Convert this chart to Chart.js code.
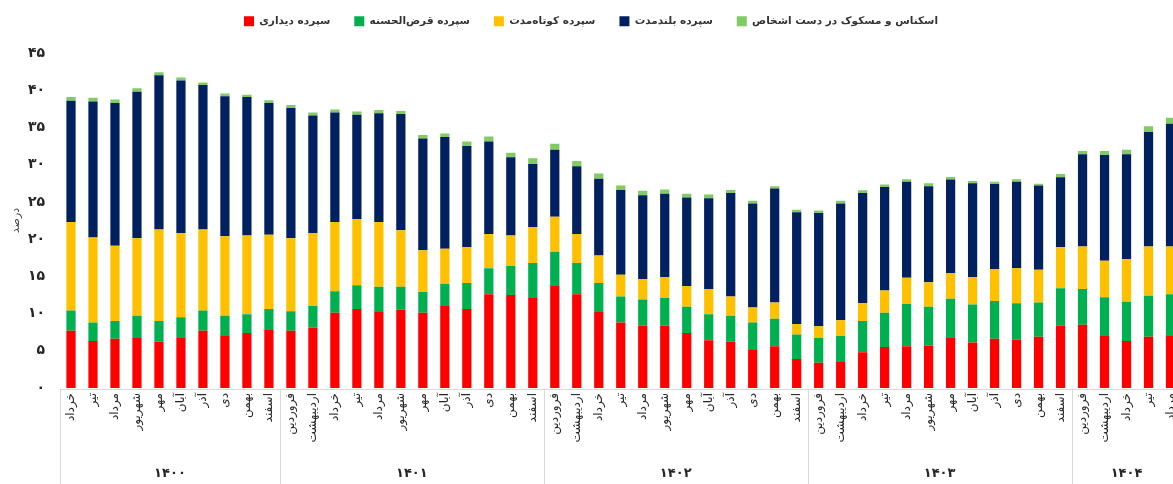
<!DOCTYPE html>
<html>
<head>
<meta charset="utf-8">
<script src="https://cdn.jsdelivr.net/npm/chart.js@4.4.1/dist/chart.umd.min.js"></script>
<style>
  html, body { margin: 0; padding: 0; background: #fff; overflow: hidden; }
  #wrap { width: 1190px; height: 484px; }
</style>
</head>
<body>
<div id="wrap"><canvas id="depositChart"></canvas></div>
<script>
// years and how many months of each are shown
const years = ["۱۴۰۰", "۱۴۰۱", "۱۴۰۲", "۱۴۰۳", "۱۴۰۴"];
const monthsPerYear = [10, 12, 12, 12, 5];

const months = [
  "خرداد", "تیر", "مرداد", "شهریور", "مهر", "آبان", "آذر", "دی", "بهمن", "اسفند",
  "فروردین", "اردیبهشت", "خرداد", "تیر", "مرداد", "شهریور", "مهر", "آبان", "آذر", "دی", "بهمن", "اسفند",
  "فروردین", "اردیبهشت", "خرداد", "تیر", "مرداد", "شهریور", "مهر", "آبان", "آذر", "دی", "بهمن", "اسفند",
  "فروردین", "اردیبهشت", "خرداد", "تیر", "مرداد", "شهریور", "مهر", "آبان", "آذر", "دی", "بهمن", "اسفند",
  "فروردین", "اردیبهشت", "خرداد", "تیر", "مرداد"
];

const seriesNames = [
  "سپرده دیداری",
  "سپرده قرض‌الحسنه",
  "سپرده کوتاه‌مدت",
  "سپرده بلندمدت",
  "اسکناس و مسکوک در دست اشخاص"
];

const demand = [
  7.7, 6.3, 6.6, 6.7, 6.2, 6.7, 7.7, 7.1, 7.4, 7.8,
  7.7, 8.1, 10.1, 10.6, 10.3, 10.5, 10.1, 11.0, 10.6, 12.6, 12.5, 12.2,
  13.7, 12.6, 10.2, 8.8, 8.4, 8.4, 7.4, 6.4, 6.2, 5.2, 5.6, 3.9,
  3.4, 3.5, 4.8, 5.5, 5.6, 5.7, 6.7, 6.1, 6.6, 6.5, 6.9, 8.4,
  8.5, 7.0, 6.3, 6.9, 7.1
];
const qarz = [
  2.7, 2.5, 2.4, 3.0, 2.8, 2.8, 2.7, 2.6, 2.5, 2.8,
  2.6, 2.9, 2.9, 3.2, 3.3, 3.1, 2.8, 3.0, 3.5, 3.5, 3.9, 4.6,
  4.6, 4.2, 3.9, 3.5, 3.5, 3.7, 3.5, 3.5, 3.5, 3.6, 3.7, 3.3,
  3.3, 3.5, 4.2, 4.6, 5.7, 5.2, 5.3, 5.1, 5.1, 4.9, 4.6, 5.0,
  4.8, 5.2, 5.3, 5.5, 5.5
];
const shortTerm = [
  11.9, 11.4, 10.1, 10.4, 12.3, 11.3, 10.9, 10.7, 10.6, 10.0,
  9.8, 9.8, 9.3, 8.9, 8.7, 7.6, 5.6, 4.7, 4.8, 4.6, 4.1, 4.8,
  4.7, 3.9, 3.7, 2.9, 2.7, 2.8, 2.8, 3.4, 2.6, 2.0, 2.2, 1.4,
  1.6, 2.1, 2.4, 3.0, 3.5, 3.3, 3.4, 3.7, 4.3, 4.7, 4.4, 5.5,
  5.7, 4.9, 5.7, 6.6, 6.4
];
const longTerm = [
  16.3, 18.3, 19.2, 19.7, 20.7, 20.5, 19.4, 18.8, 18.6, 17.7,
  17.5, 15.8, 14.7, 14.0, 14.6, 15.6, 15.0, 15.0, 13.6, 12.4, 10.5, 8.5,
  9.0, 9.1, 10.3, 11.4, 11.3, 11.2, 11.9, 12.2, 13.9, 14.0, 15.3, 15.0,
  15.2, 15.7, 14.8, 13.9, 12.9, 12.9, 12.6, 12.6, 11.4, 11.6, 11.3, 9.4,
  12.4, 14.2, 14.1, 15.4, 16.5
];
const cash = [
  0.5, 0.5, 0.45, 0.45, 0.4, 0.4, 0.35, 0.35, 0.3, 0.35,
  0.4, 0.4, 0.4, 0.45, 0.45, 0.4, 0.5, 0.5, 0.6, 0.7, 0.6, 0.75,
  0.8, 0.7, 0.7, 0.6, 0.6, 0.55, 0.5, 0.5, 0.4, 0.35, 0.3, 0.35,
  0.35, 0.35, 0.35, 0.35, 0.35, 0.4, 0.35, 0.3, 0.3, 0.35, 0.25, 0.45,
  0.45, 0.55, 0.6, 0.75, 0.8
];

const colors = ["#FF0000", "#00B050", "#FFC000", "#002060", "#80CB64"];
const faDigits = "۰۱۲۳۴۵۶۷۸۹";
const toFa = (n) => String(n).replace(/\d/g, (d) => faDigits[d]);

const FONT = '"DejaVu Sans", sans-serif';
const PAD_TOP = -8;

// keep the plot top at the same place whatever the legend measures
const legendSpace = {
  id: "legendSpace",
  afterInit(chart) {
    const fit = chart.legend.fit;
    chart.legend.fit = function () {
      fit.call(this);
      this.height = 53 - PAD_TOP;
    };
  }
};

// year row under the month labels, with separator lines
const groupAxis = {
  id: "groupAxis",
  afterDraw(chart) {
    const { ctx, chartArea } = chart;
    const x = chart.scales.x;
    const half = (x.getPixelForValue(1) - x.getPixelForValue(0)) / 2;
    const yTop = Math.round(chartArea.bottom) + 1.5;
    ctx.save();
    ctx.strokeStyle = "#d9d9d9";
    ctx.lineWidth = 1;
    ctx.beginPath();
    ctx.moveTo(chartArea.left, yTop);
    ctx.lineTo(x.right, yTop);
    ctx.stroke();

    ctx.font = "bold 13px " + FONT;
    ctx.fillStyle = "#262626";
    ctx.textAlign = "center";
    ctx.textBaseline = "middle";
    let start = 0;
    years.forEach((yr, i) => {
      const end = start + monthsPerYear[i];
      const left = x.getPixelForValue(start) - half;
      const right = x.getPixelForValue(end - 1) + half;
      [left, right].forEach((px) => {
        const lx = Math.round(px) + 0.5;
        ctx.beginPath();
        ctx.moveTo(lx, yTop);
        ctx.lineTo(lx, chart.height);
        ctx.stroke();
      });
      ctx.fillText(yr, (left + right) / 2, 474);
      start = end;
    });
    ctx.restore();
  }
};

const data = [demand, qarz, shortTerm, longTerm, cash];

new Chart(document.getElementById("depositChart"), {
  type: "bar",
  data: {
    labels: months,
    datasets: seriesNames.map((name, i) => ({
      label: name,
      data: data[i],
      backgroundColor: colors[i],
      borderWidth: 0,
      barPercentage: 0.42,
      categoryPercentage: 1
    }))
  },
  options: {
    responsive: true,
    maintainAspectRatio: false,
    animation: false,
    layout: { padding: { top: PAD_TOP, right: 8, left: 0, bottom: 0 } },
    plugins: {
      tooltip: { enabled: false },
      legend: {
        position: "top",
        labels: {
          boxWidth: 10,
          boxHeight: 10,
          padding: 24,
          color: "#333",
          font: { family: FONT, size: 10.5, weight: "bold" }
        }
      }
    },
    scales: {
      x: {
        stacked: true,
        grid: { display: false, drawTicks: false },
        border: { display: false },
        afterFit: (s) => { s.height = 96; },
        ticks: {
          autoSkip: false,
          maxRotation: 90,
          minRotation: 90,
          padding: 5,
          color: "#262626",
          font: { family: FONT, size: 12 }
        }
      },
      y: {
        stacked: true,
        min: 0,
        max: 45,
        grid: { display: false, drawTicks: false },
        border: { display: false },
        afterFit: (s) => { s.width = 60; },
        title: {
          display: true,
          text: "درصد",
          color: "#404040",
          padding: { top: 10, bottom: 0 },
          font: { family: FONT, size: 11 }
        },
        ticks: {
          stepSize: 5,
          padding: 15,
          color: "#262626",
          font: { family: FONT, size: 14, weight: "bold" },
          callback: (v) => toFa(v)
        }
      }
    }
  },
  plugins: [legendSpace, groupAxis]
});
</script>
</body>
</html>
